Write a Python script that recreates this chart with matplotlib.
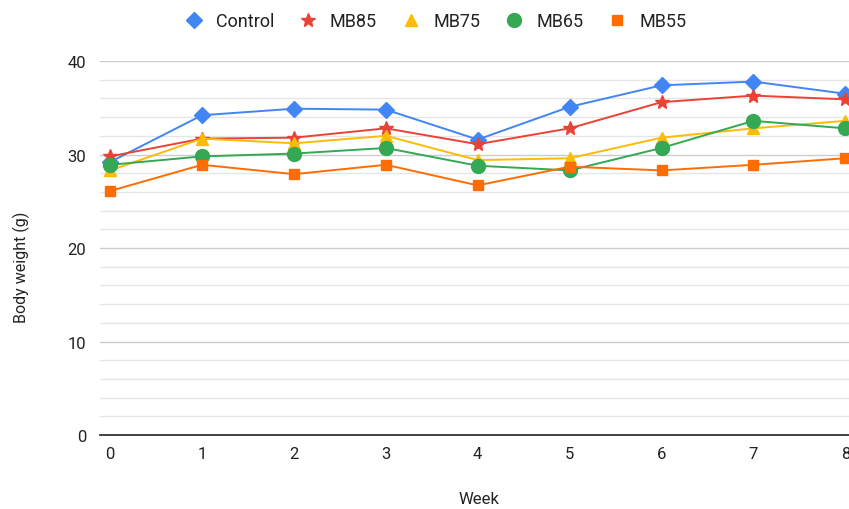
import matplotlib
matplotlib.use('Agg')
import matplotlib.pyplot as plt
from matplotlib.ticker import MultipleLocator

plt.rcParams['font.family'] = ['Roboto', 'DejaVu Sans']

# weekly mean body weight per group
weeks = [0, 1, 2, 3, 4, 5, 6, 7, 8]
control = [29.2, 34.2, 34.9, 34.8, 31.6, 35.1, 37.4, 37.8, 36.5]
mb85 = [29.8, 31.7, 31.8, 32.8, 31.1, 32.8, 35.6, 36.3, 35.9]
mb75 = [28.3, 31.7, 31.2, 32.0, 29.4, 29.6, 31.8, 32.8, 33.6]
mb65 = [28.9, 29.8, 30.1, 30.7, 28.8, 28.3, 30.7, 33.6, 32.8]
mb55 = [26.1, 28.9, 27.9, 28.9, 26.7, 28.7, 28.3, 28.9, 29.6]

series = [
    ('Control', control, '#4285f4', 'D', 8),
    ('MB85', mb85, '#ea4335', '*', 10),
    ('MB75', mb75, '#fbbc04', '^', 8),
    ('MB65', mb65, '#34a853', 'o', 10),
    ('MB55', mb55, '#ff6d01', 's', 7),
]

fig = plt.figure(figsize=(8.49, 5.10), dpi=100)
ax = fig.add_axes([0.1178, 0.1451, 0.8822, 0.7333])

for name, vals, col, mk, ms in series:
    ax.plot(weeks, vals, color=col, linewidth=1.4, marker=mk, markersize=ms,
            markeredgecolor=col, label=name, zorder=3)

ax.set_xlim(-0.11, 8.04)
ax.set_ylim(0, 40)
ax.xaxis.set_major_locator(MultipleLocator(1))
ax.yaxis.set_major_locator(MultipleLocator(10))
ax.yaxis.set_minor_locator(MultipleLocator(2))
ax.grid(which='major', axis='y', color='#cccccc', linewidth=1)
ax.grid(which='minor', axis='y', color='#e6e6e6', linewidth=1)
ax.set_axisbelow(True)

for s in ['top', 'right', 'left']:
    ax.spines[s].set_visible(False)
ax.spines['bottom'].set_color('#333333')
ax.spines['bottom'].set_linewidth(1.3)
ax.tick_params(axis='both', which='both', length=0, labelsize=12, colors='#222222')
ax.tick_params(axis='y', pad=10)
ax.tick_params(axis='x', pad=8)

ax.set_xlabel('Week', fontsize=12, color='#222222')
ax.xaxis.set_label_coords((479 - 100) / 749, -(492 - 436) / 374, transform=ax.transAxes)
ax.set_ylabel('Body weight (g)', fontsize=11.5, color='#222222')
ax.yaxis.set_label_coords(-(100 - 30) / 749, 0.5 - (267 - 249) / 374, transform=ax.transAxes)

fig.legend(loc='center', bbox_to_anchor=(0.512, 1 - 22 / 510), ncol=5, frameon=False,
           fontsize=13, handlelength=1.2, columnspacing=1.3, handletextpad=0.6,
           labelcolor='#222222')
for h in fig.legends[0].legend_handles:
    h.set_linestyle('')

fig.savefig('out.png', dpi=100)
